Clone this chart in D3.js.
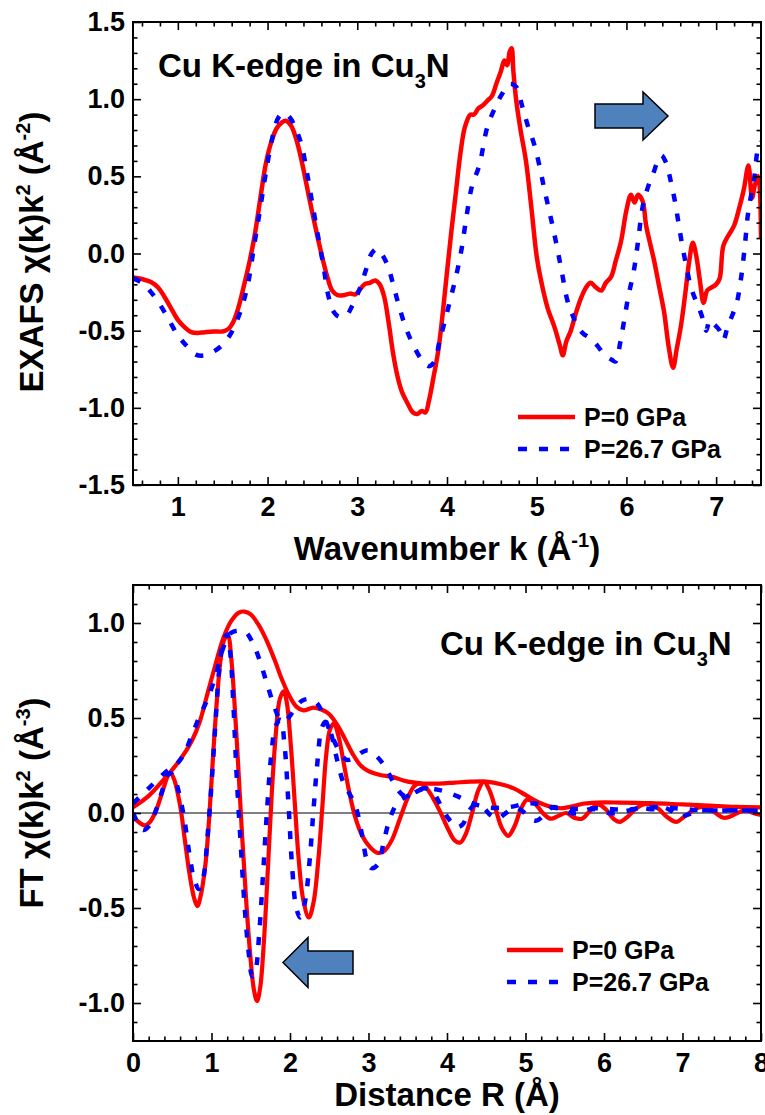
<!DOCTYPE html>
<html><head><meta charset="utf-8">
<script src="https://cdn.jsdelivr.net/npm/d3@7"></script>
<style>
body{margin:0;background:#fff;}
svg text{font-family:"Liberation Sans",Arial,Helvetica,sans-serif;font-weight:bold;fill:#000;}
</style></head><body>
<svg id="chart" width="765" height="1115" xmlns="http://www.w3.org/2000/svg"></svg>
<script>
// ---------- DATA ----------
// Top panel: EXAFS chi(k)k^2 vs k
const kTicks = [1, 2, 3, 4, 5, 6, 7];
const chiTicks = [-1.5, -1.0, -0.5, 0.0, 0.5, 1.0, 1.5];
const exafsP0 = [[0.50,-0.155],[0.60,-0.165],[0.70,-0.185],[0.78,-0.22],[0.85,-0.28],[0.92,-0.35],[1.00,-0.43],[1.08,-0.48],[1.15,-0.51],[1.22,-0.515],[1.30,-0.51],[1.40,-0.505],[1.50,-0.505],[1.56,-0.49],[1.62,-0.44],[1.68,-0.34],[1.74,-0.20],[1.80,-0.05],[1.86,0.13],[1.92,0.36],[1.98,0.58],[2.04,0.72],[2.10,0.81],[2.16,0.85],[2.20,0.86],[2.26,0.83],[2.32,0.74],[2.38,0.60],[2.44,0.43],[2.50,0.26],[2.56,0.10],[2.62,-0.05],[2.67,-0.16],[2.72,-0.24],[2.78,-0.27],[2.85,-0.27],[2.92,-0.26],[2.98,-0.265],[3.02,-0.24],[3.08,-0.20],[3.14,-0.19],[3.20,-0.175],[3.25,-0.20],[3.30,-0.28],[3.35,-0.45],[3.40,-0.65],[3.45,-0.80],[3.50,-0.90],[3.56,-0.97],[3.62,-1.03],[3.67,-1.04],[3.72,-1.02],[3.76,-1.03],[3.80,-0.95],[3.85,-0.80],[3.90,-0.64],[3.95,-0.40],[4.00,-0.12],[4.05,0.15],[4.10,0.40],[4.15,0.65],[4.20,0.82],[4.26,0.90],[4.30,0.90],[4.35,0.94],[4.40,0.96],[4.45,0.99],[4.50,1.02],[4.55,1.10],[4.60,1.18],[4.64,1.25],[4.67,1.22],[4.70,1.31],[4.72,1.33],[4.74,1.18],[4.77,1.00],[4.82,0.80],[4.88,0.60],[4.94,0.30],[5.00,-0.02],[5.05,-0.18],[5.12,-0.35],[5.20,-0.48],[5.26,-0.60],[5.29,-0.66],[5.33,-0.57],[5.38,-0.50],[5.44,-0.38],[5.50,-0.28],[5.55,-0.22],[5.60,-0.19],[5.66,-0.22],[5.72,-0.24],[5.77,-0.19],[5.83,-0.15],[5.88,-0.05],[5.94,0.08],[6.00,0.28],[6.05,0.38],[6.09,0.33],[6.13,0.38],[6.18,0.34],[6.22,0.18],[6.27,0.05],[6.31,-0.05],[6.36,-0.20],[6.42,-0.38],[6.47,-0.60],[6.52,-0.74],[6.56,-0.62],[6.61,-0.46],[6.66,-0.24],[6.70,-0.05],[6.74,0.07],[6.78,-0.02],[6.82,-0.18],[6.86,-0.32],[6.90,-0.24],[6.95,-0.22],[7.00,-0.20],[7.04,-0.16],[7.08,0.05],[7.14,0.12],[7.20,0.18],[7.26,0.30],[7.31,0.42],[7.36,0.57],[7.40,0.36],[7.43,0.44],[7.47,0.50],[7.50,0.10]];
const exafsP267 = [[0.50,-0.16],[0.60,-0.19],[0.70,-0.25],[0.80,-0.33],[0.90,-0.43],[1.00,-0.53],[1.10,-0.60],[1.20,-0.655],[1.30,-0.66],[1.40,-0.635],[1.50,-0.59],[1.60,-0.51],[1.70,-0.37],[1.78,-0.20],[1.85,0.05],[1.92,0.30],[1.98,0.52],[2.05,0.74],[2.12,0.88],[2.18,0.91],[2.25,0.88],[2.32,0.80],[2.38,0.70],[2.44,0.52],[2.50,0.32],[2.56,0.12],[2.62,-0.07],[2.68,-0.28],[2.74,-0.38],[2.80,-0.41],[2.88,-0.40],[2.95,-0.33],[3.02,-0.24],[3.10,-0.10],[3.16,0.00],[3.22,0.03],[3.28,-0.01],[3.34,-0.08],[3.40,-0.20],[3.46,-0.33],[3.54,-0.48],[3.63,-0.60],[3.72,-0.69],[3.80,-0.73],[3.86,-0.70],[3.92,-0.56],[3.98,-0.43],[4.04,-0.29],[4.10,-0.15],[4.16,0.02],[4.22,0.25],[4.28,0.44],[4.36,0.57],[4.45,0.82],[4.54,0.95],[4.62,1.04],[4.70,1.10],[4.77,1.08],[4.84,0.95],[4.90,0.83],[4.97,0.71],[5.03,0.57],[5.08,0.43],[5.13,0.30],[5.18,0.17],[5.23,0.03],[5.28,-0.12],[5.34,-0.30],[5.40,-0.40],[5.46,-0.48],[5.52,-0.52],[5.60,-0.55],[5.68,-0.60],[5.76,-0.66],[5.84,-0.69],[5.88,-0.70],[5.93,-0.58],[5.97,-0.45],[6.02,-0.28],[6.08,-0.12],[6.13,0.08],[6.18,0.30],[6.24,0.43],[6.30,0.52],[6.35,0.60],[6.39,0.635],[6.44,0.59],[6.49,0.48],[6.54,0.34],[6.58,0.20],[6.62,0.06],[6.67,-0.09],[6.72,-0.22],[6.77,-0.30],[6.82,-0.37],[6.86,-0.44],[6.89,-0.50],[6.93,-0.43],[6.98,-0.46],[7.04,-0.50],[7.08,-0.56],[7.13,-0.47],[7.18,-0.40],[7.23,-0.32],[7.28,-0.15],[7.32,0.05],[7.36,0.28],[7.42,0.47],[7.47,0.69],[7.50,0.72]];

// Bottom panel: FT chi(k)k^2 vs R (magnitude and real part)
const rTicks = [0, 1, 2, 3, 4, 5, 6, 7, 8];
const ftTicks = [-1.0, -0.5, 0.0, 0.5, 1.0];
const ftMagP0 = [[0,0.03],[0.2,0.09],[0.4,0.18],[0.6,0.28],[0.75,0.38],[0.85,0.48],[0.95,0.63],[1.05,0.78],[1.15,0.92],[1.25,1.01],[1.35,1.055],[1.42,1.06],[1.5,1.045],[1.6,0.99],[1.7,0.91],[1.8,0.81],[1.9,0.70],[2.0,0.61],[2.08,0.56],[2.17,0.54],[2.3,0.555],[2.4,0.545],[2.5,0.52],[2.6,0.465],[2.7,0.39],[2.8,0.31],[2.9,0.25],[3.0,0.22],[3.15,0.20],[3.3,0.19],[3.5,0.165],[3.7,0.155],[3.9,0.155],[4.1,0.16],[4.3,0.165],[4.5,0.165],[4.7,0.15],[4.85,0.13],[5.0,0.095],[5.15,0.06],[5.3,0.035],[5.45,0.025],[5.6,0.035],[5.75,0.05],[5.9,0.055],[6.2,0.055],[6.6,0.052],[7.0,0.045],[7.4,0.038],[7.7,0.032],[8.0,0.03]];
const ftReP0 = [[0,-0.02],[0.08,-0.05],[0.15,-0.065],[0.22,-0.045],[0.30,0.02],[0.38,0.12],[0.45,0.20],[0.48,0.21],[0.53,0.17],[0.60,0.04],[0.66,-0.14],[0.72,-0.32],[0.78,-0.45],[0.82,-0.49],[0.86,-0.44],[0.92,-0.28],[0.97,-0.03],[1.02,0.30],[1.07,0.60],[1.12,0.82],[1.17,0.92],[1.21,0.93],[1.25,0.82],[1.29,0.60],[1.34,0.25],[1.39,-0.12],[1.44,-0.45],[1.49,-0.73],[1.54,-0.93],[1.58,-0.99],[1.62,-0.92],[1.67,-0.66],[1.72,-0.28],[1.77,0.12],[1.82,0.42],[1.87,0.60],[1.92,0.64],[1.96,0.58],[2.01,0.36],[2.06,0.06],[2.11,-0.24],[2.17,-0.46],[2.24,-0.55],[2.30,-0.47],[2.36,-0.25],[2.41,0.02],[2.46,0.30],[2.51,0.44],[2.56,0.47],[2.62,0.40],[2.69,0.25],[2.76,0.10],[2.83,-0.02],[2.92,-0.12],[3.02,-0.18],[3.12,-0.21],[3.2,-0.20],[3.3,-0.14],[3.4,-0.03],[3.5,0.08],[3.58,0.14],[3.64,0.155],[3.72,0.14],[3.82,0.08],[3.92,0.0],[4.02,-0.09],[4.1,-0.145],[4.17,-0.155],[4.24,-0.11],[4.32,0.0],[4.4,0.12],[4.47,0.165],[4.54,0.12],[4.62,0.02],[4.7,-0.08],[4.78,-0.12],[4.86,-0.07],[4.94,0.02],[5.02,0.07],[5.12,0.05],[5.22,0.0],[5.32,-0.03],[5.42,-0.015],[5.52,0.0],[5.62,-0.025],[5.72,-0.03],[5.82,0.01],[5.92,0.045],[6.02,0.02],[6.12,-0.03],[6.2,-0.047],[6.3,-0.02],[6.4,0.02],[6.5,0.045],[6.6,0.045],[6.7,0.02],[6.8,-0.02],[6.92,-0.047],[7.02,-0.02],[7.12,0.01],[7.22,0.03],[7.32,0.03],[7.42,0.0],[7.52,-0.025],[7.6,-0.02],[7.7,0.0],[7.8,0.015],[7.9,0.0],[8.0,-0.01]];
const ftMagP267 = [[0,0.05],[0.2,0.13],[0.4,0.21],[0.55,0.255],[0.65,0.31],[0.75,0.41],[0.85,0.51],[0.95,0.60],[1.05,0.72],[1.15,0.87],[1.24,0.945],[1.33,0.96],[1.43,0.955],[1.52,0.90],[1.6,0.82],[1.7,0.69],[1.8,0.56],[1.88,0.49],[1.95,0.49],[2.05,0.54],[2.15,0.59],[2.25,0.60],[2.34,0.58],[2.45,0.49],[2.55,0.39],[2.65,0.31],[2.72,0.28],[2.82,0.29],[2.92,0.32],[3.0,0.33],[3.1,0.30],[3.2,0.25],[3.32,0.16],[3.42,0.10],[3.5,0.085],[3.6,0.11],[3.72,0.13],[3.85,0.125],[4.0,0.11],[4.15,0.085],[4.3,0.055],[4.5,0.03],[4.7,0.028],[4.85,0.035],[5.0,0.05],[5.12,0.05],[5.3,0.032],[5.5,0.022],[5.7,0.022],[5.9,0.025],[6.1,0.02],[6.3,0.018],[6.5,0.028],[6.75,0.03],[7.0,0.022],[7.25,0.014],[7.6,0.014],[8.0,0.012]];
const ftReP267 = [[0,0.0],[0.07,-0.06],[0.13,-0.09],[0.2,-0.07],[0.28,0.0],[0.36,0.10],[0.44,0.20],[0.48,0.21],[0.54,0.17],[0.6,0.08],[0.66,-0.05],[0.72,-0.22],[0.78,-0.35],[0.84,-0.40],[0.90,-0.33],[0.95,-0.12],[1.0,0.15],[1.05,0.47],[1.10,0.76],[1.15,0.90],[1.20,0.94],[1.24,0.84],[1.28,0.56],[1.32,0.20],[1.37,-0.15],[1.42,-0.48],[1.47,-0.72],[1.52,-0.86],[1.56,-0.83],[1.61,-0.62],[1.66,-0.30],[1.71,0.03],[1.76,0.30],[1.82,0.46],[1.88,0.49],[1.93,0.36],[1.98,0.05],[2.03,-0.30],[2.08,-0.50],[2.13,-0.55],[2.19,-0.47],[2.25,-0.25],[2.30,0.02],[2.35,0.27],[2.40,0.44],[2.45,0.48],[2.52,0.42],[2.60,0.28],[2.68,0.16],[2.76,0.10],[2.84,0.03],[2.92,-0.12],[2.98,-0.25],[3.04,-0.29],[3.12,-0.27],[3.2,-0.14],[3.28,-0.02],[3.38,0.06],[3.48,0.085],[3.6,0.11],[3.72,0.13],[3.82,0.11],[3.92,0.04],[4.02,-0.03],[4.12,-0.075],[4.2,-0.06],[4.28,0.01],[4.36,0.045],[4.46,0.03],[4.55,-0.01],[4.64,-0.03],[4.75,0.0],[4.86,0.03],[4.96,0.01],[5.06,-0.03],[5.14,-0.04],[5.24,-0.01],[5.34,0.03],[5.46,0.02],[5.58,0.0],[5.7,0.0],[5.82,0.02],[5.94,0.015],[6.06,0.0],[6.16,0.0],[6.28,0.01],[6.4,0.02],[6.5,0.025],[6.62,0.02],[6.76,0.03],[6.86,0.01],[6.96,-0.02],[7.06,-0.01],[7.18,0.01],[7.3,0.014],[7.45,0.012],[7.6,0.014],[7.75,0.014],[8.0,0.012]];

const legendLabels = ["P=0 GPa", "P=26.7 GPa"];
const RED = "#ff0000", BLUE = "#0000ff";
const DASH = "8,12";

// ---------- DRAWING ----------
const svg = d3.select("#chart");
svg.append("rect").attr("width", 765).attr("height", 1115).attr("fill", "#fff");
const fmt1 = d => d.toFixed(1);
const fmt0 = d => String(d);

function drawPanel(cfg) {
  const {id, box, xDom, yDom, xMajor, xMinor, yMajor, yMinor, xFmt, yFmt, series, zero} = cfg;
  const x = d3.scaleLinear().domain(xDom).range([box.l, box.r]);
  const y = d3.scaleLinear().domain(yDom).range([box.b, box.t]);
  const g = svg.append("g");
  svg.append("clipPath").attr("id", id).append("rect")
    .attr("x", box.l).attr("y", box.t).attr("width", box.r - box.l).attr("height", box.b - box.t);

  if (zero) {
    g.append("line").attr("x1", box.l).attr("x2", box.r).attr("y1", y(0)).attr("y2", y(0))
      .attr("stroke", "#000").attr("stroke-width", 1);
  }
  const line = d3.line().x(d => x(d[0])).y(d => y(d[1])).curve(d3.curveCatmullRom.alpha(0.5));
  const cg = g.append("g").attr("clip-path", `url(#${id})`);
  series.forEach(s => {
    cg.append("path").attr("d", line(s.data)).attr("fill", "none")
      .attr("stroke", s.color).attr("stroke-width", s.width)
      .attr("stroke-dasharray", s.dash || null)
      .attr("stroke-linejoin", "round");
  });

  const styleAxis = sel => {
    sel.select(".domain").remove();
    sel.selectAll(".tick line").attr("stroke", "#000").attr("stroke-width", 1.6);
    sel.selectAll("text").style("font-size", "27px").style("font-weight", "bold")
      .style("font-family", '"Liberation Sans", Arial, sans-serif').attr("fill", "#000");
  };
  g.append("g").attr("transform", `translate(0,${box.b})`)
    .call(d3.axisBottom(x).tickValues(xMajor).tickSize(-8).tickPadding(12).tickFormat(xFmt)).call(styleAxis);
  g.append("g").attr("transform", `translate(0,${box.b})`)
    .call(d3.axisBottom(x).tickValues(xMinor).tickSize(-4.5).tickFormat("")).call(styleAxis);
  g.append("g").attr("transform", `translate(0,${box.t})`)
    .call(d3.axisTop(x).tickValues(xMajor).tickSize(-8).tickFormat("")).call(styleAxis);
  g.append("g").attr("transform", `translate(0,${box.t})`)
    .call(d3.axisTop(x).tickValues(xMinor).tickSize(-4.5).tickFormat("")).call(styleAxis);
  g.append("g").attr("transform", `translate(${box.l},0)`)
    .call(d3.axisLeft(y).tickValues(yMajor).tickSize(-8).tickPadding(8).tickFormat(yFmt)).call(styleAxis);
  g.append("g").attr("transform", `translate(${box.l},0)`)
    .call(d3.axisLeft(y).tickValues(yMinor).tickSize(-4.5).tickFormat("")).call(styleAxis);
  g.append("g").attr("transform", `translate(${box.r},0)`)
    .call(d3.axisRight(y).tickValues(yMajor).tickSize(-8).tickFormat("")).call(styleAxis);
  g.append("g").attr("transform", `translate(${box.r},0)`)
    .call(d3.axisRight(y).tickValues(yMinor).tickSize(-4.5).tickFormat("")).call(styleAxis);

  g.append("rect").attr("x", box.l).attr("y", box.t).attr("width", box.r - box.l).attr("height", box.b - box.t)
    .attr("fill", "none").attr("stroke", "#000").attr("stroke-width", 2);
  return {x, y};
}

function minorTicks(lo, hi, step, majors) {
  return d3.range(Math.round(lo / step), Math.round(hi / step) + 1).map(i => +(i * step).toFixed(4))
    .filter(v => !majors.some(m => Math.abs(m - v) < 1e-6));
}

drawPanel({
  id: "clipTop", box: {l: 133, r: 761, t: 22, b: 485},
  xDom: [0.5, 7.5], yDom: [-1.5, 1.5],
  xMajor: kTicks, xMinor: minorTicks(0.6, 7.4, 0.2, kTicks),
  yMajor: chiTicks, yMinor: minorTicks(-1.4, 1.4, 0.1, chiTicks),
  xFmt: fmt0, yFmt: fmt1, zero: false,
  series: [
    {data: exafsP0, color: RED, width: 4.5},
    {data: exafsP267, color: BLUE, width: 4.5, dash: DASH}
  ]
});

drawPanel({
  id: "clipBot", box: {l: 133, r: 761, t: 585, b: 1041},
  xDom: [0, 8], yDom: [-1.2, 1.2],
  xMajor: rTicks, xMinor: minorTicks(0.2, 7.8, 0.2, rTicks),
  yMajor: ftTicks, yMinor: minorTicks(-1.1, 1.1, 0.1, ftTicks),
  xFmt: fmt0, yFmt: fmt1, zero: true,
  series: [
    {data: ftMagP0, color: RED, width: 4.2},
    {data: ftReP0, color: RED, width: 4.2},
    {data: ftMagP267, color: BLUE, width: 4.5, dash: DASH},
    {data: ftReP267, color: BLUE, width: 4.5, dash: DASH}
  ]
});

// ---------- TEXT ----------
function richText(xp, yp, parts, opts) {
  const t = svg.append("text").attr("text-anchor", opts.anchor || "start")
    .style("font-size", opts.size + "px");
  if (opts.rotate) t.attr("transform", `translate(${xp},${yp}) rotate(-90)`);
  else t.attr("x", xp).attr("y", yp);
  let shift = 0;
  parts.forEach(p => {
    const target = p.sup ? -opts.supShift : p.sub ? opts.subShift : 0;
    const ts = t.append("tspan").attr("dy", target - shift).text(p.t);
    if (p.sup || p.sub) ts.style("font-size", opts.small + "px");
    shift = target;
  });
  return t;
}

richText(158, 77, [{t: "Cu K-edge in Cu"}, {t: "3", sub: true}, {t: "N"}], {size: 33, small: 20, subShift: 11, supShift: 13});
richText(440, 655, [{t: "Cu K-edge in Cu"}, {t: "3", sub: true}, {t: "N"}], {size: 33, small: 20, subShift: 11, supShift: 13});

richText(447, 560, [{t: "Wavenumber k (Å"}, {t: "-1", sup: true}, {t: ")"}], {size: 33, small: 20, supShift: 13, anchor: "middle"});
richText(447, 1106, [{t: "Distance R (Å)"}], {size: 33, small: 20, supShift: 13, anchor: "middle"});
richText(43, 252, [{t: "EXAFS χ(k)k"}, {t: "2", sup: true}, {t: " (Å"}, {t: "-2", sup: true}, {t: ")"}], {size: 33, small: 20, supShift: 13, anchor: "middle", rotate: true});
richText(43, 803, [{t: "FT χ(k)k"}, {t: "2", sup: true}, {t: " (Å"}, {t: "-3", sup: true}, {t: ")"}], {size: 33, small: 20, supShift: 13, anchor: "middle", rotate: true});

function legend(x0, x1, y0, y1, tx) {
  svg.append("line").attr("x1", x0).attr("x2", x1).attr("y1", y0).attr("y2", y0)
    .attr("stroke", RED).attr("stroke-width", 4.5);
  svg.append("text").attr("x", tx).attr("y", y0 + 9).style("font-size", "25px").text(legendLabels[0]);
  svg.append("line").attr("x1", x0).attr("x2", x1).attr("y1", y1).attr("y2", y1)
    .attr("stroke", BLUE).attr("stroke-width", 4.5).attr("stroke-dasharray", "9,12");
  svg.append("text").attr("x", tx).attr("y", y1 + 9).style("font-size", "25px").text(legendLabels[1]);
}
legend(518, 575, 417, 449, 584);
legend(507, 563, 950, 982, 572);

const arrowFill = "#4f81bd";
svg.append("path")
  .attr("d", "M595,104 L643,104 L643,92 L668,116 L643,140 L643,128 L595,128 Z")
  .attr("fill", arrowFill).attr("stroke", "#000").attr("stroke-width", 1.5);
svg.append("path")
  .attr("d", "M353,951 L308,951 L308,937.5 L283,962.5 L308,987.5 L308,974 L353,974 Z")
  .attr("fill", arrowFill).attr("stroke", "#000").attr("stroke-width", 1.5);
</script>
</body></html>
